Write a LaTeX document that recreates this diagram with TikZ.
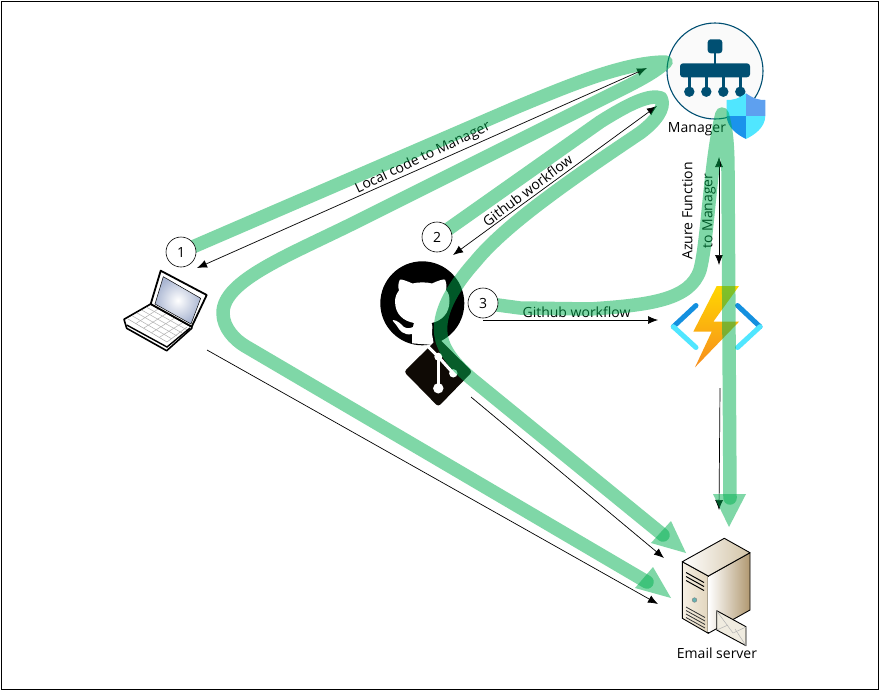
\documentclass[tikz,border=0pt]{standalone}
\usepackage{fontspec}
\setmainfont{Open Sans}
\usetikzlibrary{arrows.meta,calc}
\definecolor{flow}{HTML}{00B050}
\definecolor{hub}{HTML}{004F72}
\definecolor{fnblue}{RGB}{20,144,223}
\definecolor{fncyan}{RGB}{80,230,255}
\definecolor{boltA}{RGB}{255,214,0}
\definecolor{boltB}{RGB}{247,141,30}
\definecolor{srvA}{RGB}{226,214,190}
\definecolor{srvB}{RGB}{176,152,112}
\definecolor{srvC}{RGB}{210,195,165}
\definecolor{srvD}{RGB}{246,240,228}
\definecolor{env}{RGB}{240,236,224}
\definecolor{shA}{RGB}{80,230,255}
\definecolor{shB}{RGB}{94,160,239}
\definecolor{shC}{RGB}{27,147,235}
\definecolor{lapA}{RGB}{170,182,210}
\tikzset{
  flowline/.style={draw=flow,draw opacity=.5,line width=13.5pt,line cap=round,line join=round},
  flowhead/.style={fill=flow,fill opacity=.5,draw=none},
  link/.style={draw=black,line width=.7pt,-{Latex[length=10pt,width=8pt]}},
  biglink/.style={link,{Latex[length=10pt,width=8pt]}-{Latex[length=10pt,width=8pt]}},
  numcircle/.style={circle,draw=black,fill=white,line width=.6pt,minimum size=30pt,inner sep=0pt,font=\fontsize{14}{16}\selectfont},
  lbl/.style={inner sep=0pt,text=black,font=\fontsize{14}{20}\selectfont,align=center},
}
\begin{document}
\begin{tikzpicture}[x=1pt,y=-1pt]
\useasboundingbox (0,0) rectangle (880,691);
\fill[white] (0,0) rectangle (880,691);
\draw[black,line width=1pt] (1,1) rectangle (878.5,689.5);

% named anchors
\coordinate (lapIn) at (197,268);
\coordinate (lapOut) at (207,350);
\coordinate (mgrA) at (647,68);
\coordinate (mgrB) at (657,106);
\coordinate (mgrC) at (719,157);
\coordinate (gitIn) at (453,255);
\coordinate (gitOut) at (483,320);
\coordinate (gitDown) at (471,397);
\coordinate (fnIn) at (658,320);
\coordinate (fnUp) at (719,265);
\coordinate (fnDown) at (720,388);
\coordinate (endA) at (719,510);
\coordinate (endB) at (664,558);
\coordinate (endC) at (658,604);

% manager icon
\node[circle,draw=hub,fill=black!2,line width=1.1pt,minimum size=96pt,inner sep=0pt] (manager) at (715,71) {};
\fill[hub,rounded corners=3pt] (707.7,39.3) rectangle (722.3,53.3);
\fill[hub] (713.6,53) rectangle (716.4,64);
\fill[hub,rounded corners=3pt] (680,63.3) rectangle (750,77.3);
\foreach \xx in {689.3,706.3,723.3,740.3}{
  \fill[hub] (\xx-1.4,77) rectangle (\xx+1.4,90);
  \fill[hub] (\xx,91.7) circle (5.2);
}
% shield
\begin{scope}
\clip (746,93.3) .. controls (738,99) and (733,100) .. (726.7,100) -- (726.7,116) .. controls (727,128) and (738,135) .. (746,139) .. controls (754,135) and (765,128) .. (765.3,116) -- (765.3,100) .. controls (759,100) and (754,99) .. (746,93.3) -- cycle;
\fill[shA] (726,93) rectangle (746,116);
\fill[shB] (746,93) rectangle (766,116);
\fill[shC] (726,116) rectangle (746,140);
\fill[shA] (746,116) rectangle (766,140);
\end{scope}
\node[lbl] (mgrlabel) at (697,129) {Manager};

% laptop
\coordinate (laptop) at (165,310);
\fill[white,draw=black,line width=1.6pt,line join=round] (150.7,304) -- (124,319.3) -- (126.7,328.3) -- (166.7,350.7) -- (191.7,328.3) -- (191.7,326.7) -- cycle;
\draw[black!35,line width=.5pt] (128,319) -- (167,342) -- (187,327);
\foreach \t in {.2,.4,.6,.8}{
  \draw[black!30,line width=.5pt] ($(150.7,304)!\t!(191.7,326.7)$) -- ($(128,319)!\t!(167,342)$);
  \draw[black!30,line width=.5pt] ($(128,319)!\t!(150.7,304)$) -- ($(167,342)!\t!(191.7,326.7)$);
}
\draw[black,line width=1.4pt] (126.7,325) -- (167,347) -- (190,328);
\fill[white,draw=black,line width=1.8pt,line join=round] (160.7,270.7) -- (206.7,295) -- (191.7,326.7) -- (150.7,304) -- cycle;
\shade[inner color=white,outer color=lapA,draw=black,line width=.5pt] (163.3,276.7) -- (200.7,298.3) -- (191,324) -- (155,304) -- cycle;

% github
\node[circle,fill=black,minimum size=84pt,inner sep=0pt] (github) at (422.3,303.3) {};
\fill[white] (400,279.5) .. controls (401,279) and (407,281) .. (412.5,283.5) .. controls (418,282) and (427,282) .. (432,283.5) .. controls (438,280.5) and (444,279) .. (445,279.5) .. controls (447,284) and (446.5,288) .. (446,290) .. controls (449,293) and (449.5,297) .. (449.5,301) .. controls (449.5,314) and (441,321) .. (431.5,323) .. controls (433,325) and (432,330) .. (432,334) -- (434,345) -- (412,343.3) -- (412,334) .. controls (404,336) and (399,330) .. (397,326) .. controls (395,323) and (392,321) .. (393,320) .. controls (397,320) and (401,324) .. (404,327) .. controls (407,329) and (411,328) .. (413,327) .. controls (413,325) and (414,324) .. (414,323) .. controls (404,321) and (395,315) .. (395,301) .. controls (395,297) and (397,293) .. (399,290.5) .. controls (398,287) and (398,283) .. (400,279.5) -- cycle;
% git diamond
\coordinate (gitdiamond) at (438.3,372);
\fill[black!92!brown,rounded corners=3pt] (404,371.7) -- (438.3,338) -- (472.3,371.7) -- (438.3,406.7) -- cycle;
\draw[white,line width=3pt] (428,346.5) -- (438.3,356.7) -- (453.3,373.3);
\draw[white,line width=3pt] (438.3,356.7) -- (438.3,388.3);
\fill[white] (438.3,388.3) circle (5.2);
\fill[white] (453.3,373.3) circle (4.2);
\fill[white] (438.3,356.7) circle (4);

% azure function
\coordinate (func) at (716.7,326);
\draw[line width=5pt,line cap=round,draw=fnblue] (696,305.5) -- (673.3,326.7);
\draw[line width=5pt,line cap=round,draw=fncyan] (673.3,326.7) -- (696,347.5);
\draw[line width=5pt,line cap=round,draw=fnblue] (737.5,305.5) -- (760,326.7);
\draw[line width=5pt,line cap=round,draw=fncyan] (760,326.7) -- (737.5,347.5);
\shade[top color=boltA,bottom color=boltB] (716.7,286) -- (739,286) -- (713.3,321.7) -- (739,321.7) -- (695,367.3) -- (711.7,331.7) -- (693.3,331.7) -- cycle;

% email server
\coordinate (server) at (716,585);
\shade[left color=srvD,right color=srvA,draw=black,line width=.9pt,line join=round] (682.3,561.7) -- (708.3,576) -- (708.3,633.3) -- (682.3,618.3) -- cycle;
\shade[left color=white,right color=srvB,draw=black,line width=.9pt,line join=round] (708.3,576) -- (750,552.7) -- (750,610) -- (708.3,633.3) -- cycle;
\shade[left color=white,right color=srvC,draw=black,line width=.9pt,line join=round] (724.3,538.3) -- (750,552.7) -- (708.3,576) -- (682.3,561.7) -- cycle;
\draw[white,line width=1.2pt] (708.8,577) -- (708.8,632);
\foreach \dy in {0,4,8}{
  \draw[black,line width=1pt] (686,572.5+\dy) -- (704,582.5+\dy);
}
\foreach \dy in {0,3.5,7,10.5}{
  \draw[black!80,line width=.8pt] (686,607+\dy) -- (705,617.5+\dy);
}
\fill[teal!60!white,draw=black!50,line width=.4pt] (694.5,600) circle (2.3);
\fill[env,draw=black,line width=.9pt,line join=round] (716.7,610.7) -- (746,626.7) -- (746,645.7) -- (716.7,630) -- cycle;
\draw[black!30,line width=.5pt] (716.7,611) -- (733,633) -- (746,627);
\draw[black!30,line width=.5pt] (716.7,630) -- (728,625);
\draw[black!30,line width=.5pt] (746,645.7) -- (735,629);
\node[lbl] (srvlabel) at (717,653) {Email server};

% thin connectors
\draw[biglink] (lapIn) -- (mgrA);
\draw[biglink] (gitIn) -- (mgrB);
\draw[biglink] (mgrC) -- (fnUp);
\draw[link] (gitOut) -- (fnIn);
\draw[link] (fnDown) -- (endA);
\draw[link] (gitDown) -- (endB);
\draw[link] (lapOut) -- (endC);

% labels
\node[lbl,rotate=25.5] (l1) at (423,158) {Local code to Manager};
\node[lbl,rotate=37] (l2) at (527.5,190.5) {Github workflow};
\node[lbl] (l3) at (576.5,312) {Github workflow};
\node[lbl,rotate=90] (l4) at (699,211) {Azure Function\\to Manager};

% green flows
\coordinate (step1) at (181,252);
\coordinate (step2) at (437,237);
\coordinate (step3) at (483,303);
\path[flowline] (step1) -- (517,107) .. controls (570,85) and (625,62) .. (666,62) .. controls (655,72) and (640,80) .. (620,90) -- (360,220) .. controls (290,255) and (223,280) .. (223,313) .. controls (223,328) and (235,340) .. (245,346) -- (647,582);
\fill[flowhead] (653,567) -- (671,598) -- (635,588) -- cycle;
\path[flowline] (step2) -- (600,122) .. controls (630,103) and (650,94) .. (661,98) .. controls (666,108) and (655,122) .. (640,133) .. controls (570,180) and (505,225) .. (475,262) .. controls (450,290) and (438,315) .. (441,335) .. controls (443,350) and (455,365) .. (473,380) -- (663,535);
\fill[flowhead] (671,521) -- (686,553) -- (651,543) -- cycle;
\path[flowline] (step3) -- (520,308) -- (590,309) .. controls (650,305) and (690,300) .. (700,270) .. controls (708,240) and (710,160) .. (722,114) .. controls (727,130) and (728,150) .. (728,175) -- (730,498);
\fill[flowhead] (713,494) -- (746,494) -- (729,527) -- cycle;

% numbered steps
\node[numcircle] (n1) at (step1) {1};
\node[numcircle] (n2) at (step2) {2};
\node[numcircle] (n3) at (step3) {3};
\end{tikzpicture}
\end{document}
